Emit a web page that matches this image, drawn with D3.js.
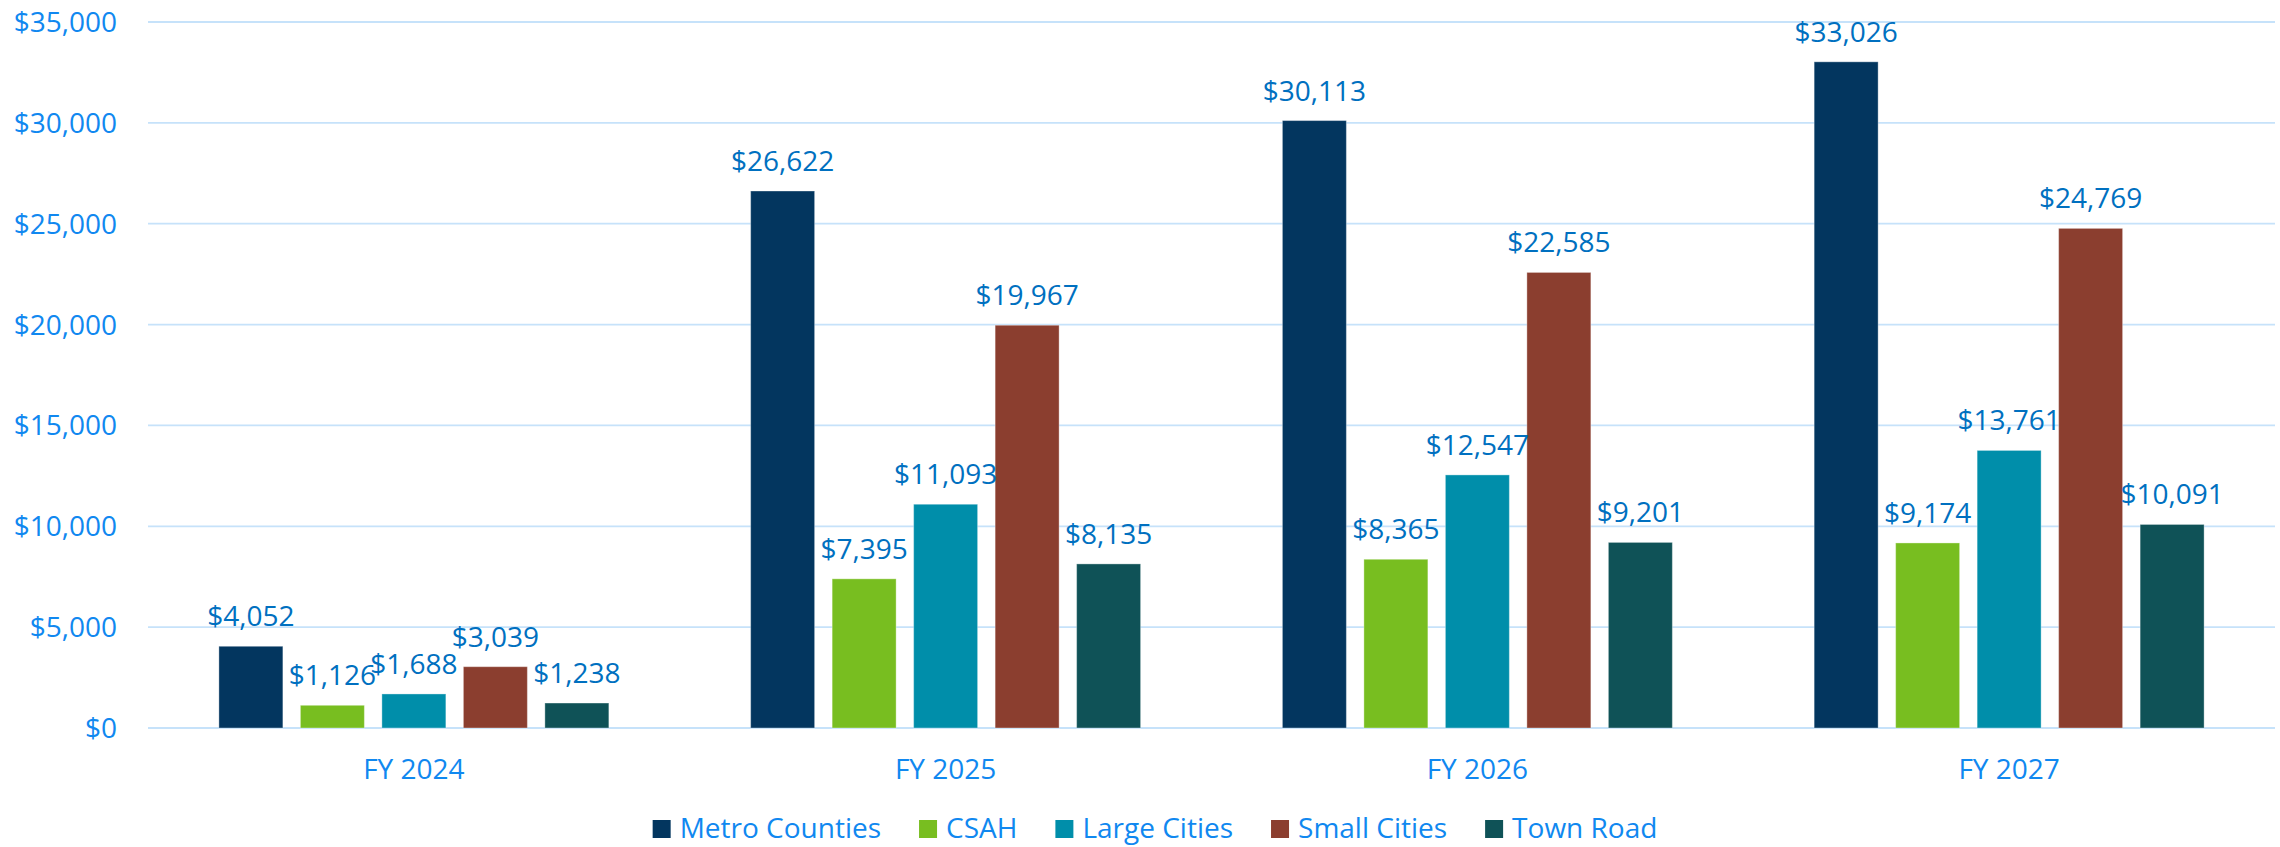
<!DOCTYPE html>
<html>
<head>
<meta charset="utf-8">
<script src="https://cdn.jsdelivr.net/npm/d3@7"></script>
<style>
  body { margin: 0; background: #fff; }
  text { font-family: "Open Sans", "Noto Sans", sans-serif; }
</style>
</head>
<body>
<div id="chart"></div>
<script>
var width = 2280, height = 847;

var years = ["FY 2024", "FY 2025", "FY 2026", "FY 2027"];
var seriesNames = ["Metro Counties", "CSAH", "Large Cities", "Small Cities", "Town Road"];
var seriesColors = ["#03365F", "#78BE20", "#008EAA", "#8B3E2F", "#0F5257"];

// values per series, one per fiscal year
var metroCounties = [4052, 26622, 30113, 33026];
var csah = [1126, 7395, 8365, 9174];
var largeCities = [1688, 11093, 12547, 13761];
var smallCities = [3039, 19967, 22585, 24769];
var townRoad = [1238, 8135, 9201, 10091];

var yTicks = [0, 5000, 10000, 15000, 20000, 25000, 30000, 35000];

var seriesValues = [metroCounties, csah, largeCities, smallCities, townRoad];

var axisColor = "#1088F0";
var labelColor = "#0070C0";
var gridColor = "#C6E2FA";
var fontSize = 28;

var plotLeft = 148, plotRight = 2275, plotTop = 22, plotBottom = 728;

var svg = d3.select("#chart").append("svg")
  .attr("width", width)
  .attr("height", height);

var x0 = d3.scaleBand()
  .domain(years)
  .range([plotLeft, plotRight])
  .padding(0);

var x1 = d3.scaleBand()
  .domain(seriesNames)
  .range([0, x0.bandwidth()])
  .paddingInner(0.215)
  .paddingOuter(0.87);

var y = d3.scaleLinear()
  .domain([0, 35000])
  .range([plotBottom, plotTop]);

var fmt = d3.format("$,");

// gridlines
svg.append("g")
  .selectAll("line")
  .data(yTicks)
  .enter()
  .append("line")
  .attr("x1", plotLeft)
  .attr("x2", plotRight)
  .attr("y1", function(d) { return y(d); })
  .attr("y2", function(d) { return y(d); })
  .attr("stroke", gridColor)
  .attr("stroke-width", 1.8);

// y axis labels
svg.append("g")
  .selectAll("text")
  .data(yTicks)
  .enter()
  .append("text")
  .attr("x", 117)
  .attr("y", function(d) { return y(d) + 10; })
  .attr("text-anchor", "end")
  .attr("font-size", fontSize)
  .attr("fill", axisColor)
  .text(function(d) { return fmt(d); });

// bars, grouped by year
var rows = years.map(function(yr, i) {
  return seriesNames.map(function(name, s) {
    return { year: yr, name: name, value: seriesValues[s][i], color: seriesColors[s] };
  });
});

var groups = svg.append("g")
  .selectAll("g")
  .data(rows)
  .enter()
  .append("g")
  .attr("transform", function(d, i) { return "translate(" + x0(years[i]) + ",0)"; });

groups.selectAll("rect")
  .data(function(d) { return d; })
  .enter()
  .append("rect")
  .attr("x", function(d) { return x1(d.name); })
  .attr("y", function(d) { return y(d.value); })
  .attr("width", x1.bandwidth())
  .attr("height", function(d) { return y(0) - y(d.value); })
  .attr("fill", function(d) { return d.color; })
  .attr("stroke", "#ffffff")
  .attr("stroke-opacity", 0.35)
  .attr("stroke-width", 1);

groups.selectAll("text")
  .data(function(d) { return d; })
  .enter()
  .append("text")
  .attr("x", function(d) { return x1(d.name) + x1.bandwidth() / 2; })
  .attr("y", function(d) { return y(d.value) - 20; })
  .attr("text-anchor", "middle")
  .attr("font-size", fontSize)
  .attr("fill", labelColor)
  .text(function(d) { return fmt(d.value); });

// category labels
svg.append("g")
  .selectAll("text")
  .data(years)
  .enter()
  .append("text")
  .attr("x", function(d) { return x0(d) + x0.bandwidth() / 2; })
  .attr("y", 779)
  .attr("text-anchor", "middle")
  .attr("font-size", fontSize)
  .attr("fill", axisColor)
  .text(function(d) { return d; });

// legend
var swatch = 18, swatchGap = 9, itemGap = 38, legendCenter = 1155, legendBase = 838;
var legend = svg.append("g");
var items = legend.selectAll("g")
  .data(seriesNames)
  .enter()
  .append("g");

items.append("rect")
  .attr("width", swatch)
  .attr("height", swatch)
  .attr("y", legendBase - swatch)
  .attr("fill", function(d, i) { return seriesColors[i]; });

items.append("text")
  .attr("x", swatch + swatchGap)
  .attr("y", legendBase)
  .attr("font-size", fontSize)
  .attr("fill", axisColor)
  .text(function(d) { return d; });

var offsets = [], cursor = 0;
items.each(function() {
  offsets.push(cursor);
  var w = d3.select(this).select("text").node().getComputedTextLength();
  cursor += swatch + swatchGap + w + itemGap;
});
var total = cursor - itemGap;
var start = legendCenter - total / 2;
items.attr("transform", function(d, i) { return "translate(" + (start + offsets[i]) + ",0)"; });
</script>
</body>
</html>
